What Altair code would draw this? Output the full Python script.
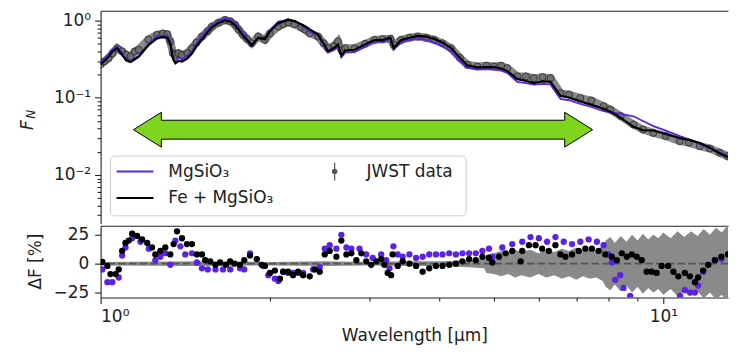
import altair as alt
import pandas as pd

# ---------------- data ----------------
wavelength = [1.000, 1.015, 1.033, 1.050, 1.070, 1.092, 1.110, 1.130, 1.150, 1.168,
              1.216, 1.260, 1.290, 1.313, 1.330, 1.345, 1.358, 1.375, 1.395, 1.425,
              1.453, 1.480, 1.514, 1.550, 1.577, 1.620, 1.664, 1.700, 1.734, 1.760,
              1.791, 1.820, 1.856, 1.906, 1.959, 2.000, 2.069, 2.110, 2.154, 2.210,
              2.275, 2.310, 2.353, 2.434, 2.490, 2.536, 2.600, 2.641, 2.678, 2.720,
              2.827, 2.950, 3.067, 3.170, 3.273, 3.318, 3.420, 3.540, 3.660, 3.790,
              3.916, 4.050, 4.194, 4.350, 4.486, 4.673, 4.850, 5.002, 5.150, 5.281,
              5.501, 5.700, 5.888, 6.100, 6.302, 6.565, 6.800, 7.122, 7.450, 7.832,
              8.049, 8.400, 8.850, 9.200, 9.600, 10.10, 10.70, 11.10, 11.61, 12.10,
              12.60, 13.00, 13.46]
jwst_flux = [0.271, 0.296, 0.326, 0.378, 0.439, 0.400, 0.361, 0.343, 0.398, 0.420,
             0.569, 0.654, 0.680, 0.666, 0.536, 0.378, 0.361, 0.378, 0.360, 0.378,
             0.439, 0.520, 0.622, 0.730, 0.837, 0.940, 1.020, 0.980, 0.880, 0.760,
             0.654, 0.580, 0.509, 0.622, 0.564, 0.680, 0.837, 0.900, 0.951, 0.900,
             0.812, 0.760, 0.686, 0.622, 0.510, 0.439, 0.470, 0.536, 0.419, 0.440,
             0.439, 0.500, 0.564, 0.575, 0.581, 0.486, 0.564, 0.603, 0.622, 0.600,
             0.564, 0.509, 0.439, 0.330, 0.268, 0.255, 0.260, 0.255, 0.260, 0.242,
             0.190, 0.189, 0.180, 0.185, 0.180, 0.115, 0.110, 0.0994, 0.092, 0.0777,
             0.0704, 0.058, 0.0451, 0.0388, 0.0351, 0.0319, 0.0275, 0.0262, 0.0237, 0.0220,
             0.0194, 0.0176, 0.0152]
flux_fe_mgsio3 = [0.270, 0.300, 0.340, 0.400, 0.440, 0.360, 0.306, 0.290, 0.316, 0.340,
                  0.480, 0.590, 0.610, 0.600, 0.500, 0.320, 0.280, 0.300, 0.295, 0.323,
                  0.375, 0.470, 0.576, 0.710, 0.820, 0.930, 1.010, 0.970, 0.870, 0.760,
                  0.640, 0.560, 0.480, 0.600, 0.575, 0.730, 0.930, 0.970, 1.020, 0.990,
                  0.890, 0.840, 0.770, 0.660, 0.510, 0.400, 0.445, 0.490, 0.350, 0.410,
                  0.420, 0.490, 0.560, 0.560, 0.600, 0.440, 0.560, 0.600, 0.635, 0.620,
                  0.580, 0.520, 0.443, 0.330, 0.263, 0.248, 0.250, 0.250, 0.240, 0.222,
                  0.176, 0.165, 0.155, 0.163, 0.161, 0.106, 0.101, 0.090, 0.081, 0.072,
                  0.066, 0.055, 0.042, 0.038, 0.0377, 0.034, 0.030, 0.0285, 0.026, 0.0225,
                  0.019, 0.0172, 0.0150]
flux_mgsio3 = [0.285, 0.320, 0.370, 0.430, 0.460, 0.374, 0.317, 0.300, 0.326, 0.350,
               0.500, 0.630, 0.630, 0.645, 0.540, 0.315, 0.300, 0.330, 0.313, 0.350,
               0.400, 0.500, 0.650, 0.770, 0.880, 0.990, 1.070, 1.030, 0.930, 0.800,
               0.690, 0.600, 0.470, 0.600, 0.590, 0.750, 0.970, 0.990, 1.030, 0.980,
               0.880, 0.810, 0.720, 0.640, 0.480, 0.385, 0.415, 0.475, 0.335, 0.385,
               0.390, 0.460, 0.540, 0.530, 0.590, 0.420, 0.530, 0.560, 0.590, 0.560,
               0.520, 0.470, 0.400, 0.300, 0.246, 0.234, 0.235, 0.232, 0.225, 0.210,
               0.161, 0.155, 0.148, 0.152, 0.149, 0.097, 0.093, 0.0835, 0.076, 0.067,
               0.065, 0.062, 0.0577, 0.050, 0.0429, 0.0375, 0.0319, 0.029, 0.0251, 0.0222,
               0.0196, 0.0176, 0.0152]

res_fe_wl = [1.007, 1.028, 1.041, 1.063, 1.077, 1.092, 1.107, 1.122, 1.138, 1.161,
             1.185, 1.210, 1.234, 1.251, 1.277, 1.303, 1.330, 1.348, 1.367, 1.395,
             1.424, 1.453, 1.483, 1.514, 1.534, 1.566, 1.600, 1.631, 1.670, 1.699,
             1.730, 1.769, 1.800, 1.843, 1.894, 1.933, 1.959, 2.000, 2.040, 2.083,
             2.111, 2.154, 2.198, 2.244, 2.290, 2.353, 2.402, 2.451, 2.502, 2.553,
             2.624, 2.678, 2.734, 2.790, 2.848, 2.906, 2.965, 3.026, 3.088, 3.152,
             3.194, 3.237, 3.282, 3.303, 3.373, 3.442, 3.538, 3.636, 3.735, 3.837,
             3.943, 4.051, 4.164, 4.279, 4.395, 4.517, 4.642, 4.769, 4.900, 4.967,
             5.105, 5.246, 5.389, 5.577, 5.614, 5.769, 5.929, 6.091, 6.259, 6.431,
             6.564, 6.699, 6.883, 7.073, 7.268, 7.466, 7.674, 7.885, 8.100, 8.267,
             8.437, 8.610, 8.788, 8.968, 9.153, 9.342, 9.535, 9.730, 9.931, 10.20,
             10.42, 10.63, 10.92, 11.15, 11.38, 11.53, 11.77, 12.02, 12.35, 12.68,
             13.03, 13.40]
res_fe = [1.5, -2, -9, -9, -5, 11, 18, 20, 26, 24,
          21, 18, 14, 8, 11, 14, 8, 17, 28, 22,
          17, 17, 8, 8, 3, 2, -1, 1, -1, 2,
          0, -1, 3, 7, 4, -1, -2, -8, -6, -13,
          -7, -7, -10, -7, -10, -11, -5, -7, 8, 11,
          6, 20, 8, 9, 3, 9, 2, -1, 2, 4,
          -1, -8, -10, 8, -2, 2, 0, -2, -7, -4,
          -2, -2, -1, 0, 2, 4, 3, 6, 5, 1,
          6, 9, 11, 2, 11, 16, 16, 13, 11, 16,
          8, 6, 8, 11, 13, 13, 11, 8, 6, 3,
          9, 6, 8, 6, 3, -7, -7, -8, -2, -2,
          -7, -11, -8, -11, -16, -12, -6, -1, 3, 6,
          8, 11]
res_mg_wl = [1.007, 1.028, 1.049, 1.077, 1.092, 1.107, 1.138, 1.177, 1.218, 1.251,
             1.277, 1.303, 1.330, 1.358, 1.386, 1.414, 1.453, 1.483, 1.514, 1.550,
             1.600, 1.650, 1.700, 1.769, 1.800, 1.843, 1.894, 1.945, 1.986, 2.040,
             2.069, 2.111, 2.154, 2.198, 2.244, 2.290, 2.385, 2.451, 2.502, 2.553,
             2.624, 2.678, 2.734, 2.790, 2.885, 2.965, 3.045, 3.152, 3.217, 3.261,
             3.314, 3.373, 3.442, 3.538, 3.636, 3.735, 3.837, 3.943, 4.051, 4.164,
             4.279, 4.395, 4.517, 4.642, 4.769, 4.900, 4.967, 5.174, 5.389, 5.614,
             5.808, 6.009, 6.215, 6.431, 6.653, 6.883, 7.122, 7.366, 7.620, 7.832,
             7.992, 8.100, 8.213, 8.383, 8.498, 8.731, 10.71, 10.92, 11.15, 11.38,
             11.53, 11.77, 12.02, 12.35, 12.68, 13.03, 13.40]
res_mg = [-5, -16, -16, -12, 7, 14, 22, 19, 13, 3,
          6, 9, -1, 20, 15, 8, 9, 1, -4, -5,
          -5, -5, -5, -4, -5, 9, 4, -2, -10, -13,
          -15, -7, -8, -8, -8, -8, -5, -3, 13, 16,
          13, 25, 14, 13, 13, 8, 5, 8, 3, -4,
          15, 8, 6, 8, 5, 6, 8, 8, 8, 9,
          8, 9, 9, 9, 11, 13, 6, 14, 17, 19,
          23, 22, 19, 23, 19, 17, 19, 21, 19, 16,
          8, 1, -14, -10, -21, -28, -28, -23, -25, -25,
          -19, -7, -1, 3, 4, 8, 9]

err_wl = [1.0, 1.5, 2.0, 2.5, 3.0, 3.5, 4.0, 4.5, 4.8, 4.85, 5.0, 5.15, 5.3, 5.45, 5.6,
          5.8, 6.0, 6.2, 6.4, 6.6, 6.8, 7.0, 7.2, 7.4, 7.6, 7.8, 7.9, 8.05, 8.2, 8.4,
          8.6, 8.8, 9.0, 9.2, 9.4, 9.6, 9.8, 10.0, 10.3, 10.6, 10.9, 11.2, 11.5, 11.8,
          12.1, 12.4, 12.7, 13.0, 13.3, 13.46]
err_pct = [1.5, 2, 1.5, 2, 1.5, 2, 2, 3, 4, 8, 9, 11, 9, 12, 10,
           12, 9, 12, 10, 13, 11, 14, 11, 13, 12, 15, 20, 23, 18, 24,
           19, 25, 20, 26, 21, 25, 22, 27, 22, 28, 23, 28, 24, 30,
           25, 31, 27, 33, 29, 33]

legend_labels = ["MgSiO₃", "Fe + MgSiO₃", "JWST data"]
x_major = [1, 10]
x_major_labels = ["10⁰", "10¹"]
x_minor = [2, 3, 4, 5, 6, 7, 8, 9]
f_major = [0.01, 0.1, 1]
f_major_labels = ["10⁻²", "10⁻¹", "10⁰"]
f_minor = [0.003, 0.004, 0.005, 0.006, 0.007, 0.008, 0.009,
           0.02, 0.03, 0.04, 0.05, 0.06, 0.07, 0.08, 0.09,
           0.2, 0.3, 0.4, 0.5, 0.6, 0.7, 0.8, 0.9]
d_major = [-25, 0, 25]

# ---------------- styling ----------------
PURPLE = "#5b22e6"
INK = "#222222"
FONT = "DejaVu Sans"
W = 630
H_TOP = 214
H_BOT = 72


def label_expr(vals, labels):
    expr = "''"
    for v, lab in zip(vals, labels):
        expr = f"abs(datum.value - {v}) < {v * 1e-3} ? '{lab}' : ({expr})"
    return expr


xscale = alt.Scale(type="log", domain=[1.0, 13.03], nice=False)
fscale = alt.Scale(type="log", domain=[0.00233, 1.346], nice=False)
dscale = alt.Scale(domain=[-29.3, 32.8], nice=False, zero=False)

one = alt.InlineData(values=[{}])

top_df = pd.DataFrame({"wl": wavelength, "jwst": jwst_flux,
                       "fe": flux_fe_mgsio3, "mg": flux_mgsio3})
fe_df = pd.DataFrame({"wl": res_fe_wl, "res": res_fe})
mg_df = pd.DataFrame({"wl": res_mg_wl, "res": res_mg})
err_df = pd.DataFrame({"wl": err_wl, "err": err_pct})

# ---------------- top panel ----------------
x_top_frame = alt.X("wl:Q", scale=xscale,
                    axis=alt.Axis(orient="top", labels=False, ticks=False, title=None,
                                  domain=True, grid=False))
x_none = alt.X("wl:Q", scale=xscale, axis=None)

band = alt.Chart(top_df).mark_line(color="#3a3a3a", strokeWidth=8, opacity=0.6,
                                   clip=True).encode(
    x=x_top_frame,
    y=alt.Y("jwst:Q", scale=fscale,
            axis=alt.Axis(orient="left", values=f_major,
                          labelExpr=label_expr(f_major, f_major_labels),
                          tickSize=6, labelPadding=4, title=None, grid=False)))
data_pts = alt.Chart(top_df).mark_point(filled=True, fill="#6a6a6a", stroke="#1e1e1e",
                                        strokeWidth=1, size=50, opacity=0.75,
                                        clip=True).encode(
    x=x_none,
    y=alt.Y("jwst:Q", scale=fscale,
            axis=alt.Axis(orient="left", values=f_minor, labels=False, tickSize=3.5,
                          title=None, domain=False, grid=False)))
mg_line = alt.Chart(top_df).mark_line(color=PURPLE, strokeWidth=1.8, clip=True).encode(
    x=x_none, y=alt.Y("mg:Q", scale=fscale, axis=None))
fe_line = alt.Chart(top_df).mark_line(color="black", strokeWidth=2.2, clip=True).encode(
    x=x_none, y=alt.Y("fe:Q", scale=fscale, axis=None))

ARROW = ("M-1,0 L-0.8785,-0.0759 L-0.8785,-0.0412 L0.8785,-0.0412 L0.8785,-0.0759 "
         "L1,0 L0.8785,0.0759 L0.8785,0.0412 L-0.8785,0.0412 L-0.8785,0.0759 Z")
arrow = alt.Chart(one).mark_point(shape=ARROW, size=461 ** 2, filled=True,
                                  fill="#7fd41e", stroke="black", strokeWidth=1,
                                  opacity=1).encode(
    x=alt.value(263.5), y=alt.value(119.5))

leg_box = alt.Chart(one).mark_rect(fill="white", fillOpacity=0.8, stroke="#cccccc",
                                   strokeWidth=1, cornerRadius=4).encode(
    x=alt.value(10), x2=alt.value(367), y=alt.value(146), y2=alt.value(206))
leg_mg = alt.Chart(one).mark_rule(color=PURPLE, strokeWidth=1.8).encode(
    x=alt.value(16), x2=alt.value(53), y=alt.value(161.5))
leg_fe = alt.Chart(one).mark_rule(color="black", strokeWidth=2).encode(
    x=alt.value(16), x2=alt.value(53), y=alt.value(188))
leg_err = alt.Chart(one).mark_rule(color="#555555", strokeWidth=1.2).encode(
    x=alt.value(235), y=alt.value(152.5), y2=alt.value(170.5))
leg_dot = alt.Chart(one).mark_point(filled=True, fill="#555555", size=30, opacity=1).encode(
    x=alt.value(235), y=alt.value(161.5))
txt = dict(font=FONT, fontSize=17, color=INK, align="left", baseline="middle")
leg_t1 = alt.Chart(one).mark_text(**txt).encode(
    x=alt.value(68), y=alt.value(161.5), text=alt.value(legend_labels[0]))
leg_t2 = alt.Chart(one).mark_text(**txt).encode(
    x=alt.value(68), y=alt.value(188.5), text=alt.value(legend_labels[1]))
leg_t3 = alt.Chart(one).mark_text(**txt).encode(
    x=alt.value(267), y=alt.value(161.5), text=alt.value(legend_labels[2]))

ytitle_f = alt.Chart(one).mark_text(font=FONT, fontSize=17, fontStyle="italic", color=INK,
                                    angle=270, align="center", baseline="middle").encode(
    x=alt.value(-73), y=alt.value(115), text=alt.value("F"))
ytitle_n = alt.Chart(one).mark_text(font=FONT, fontSize=12, fontStyle="italic", color=INK,
                                    angle=270, align="center", baseline="middle").encode(
    x=alt.value(-70), y=alt.value(104), text=alt.value("N"))

top = alt.layer(band, data_pts, mg_line, fe_line, arrow, leg_box, leg_mg, leg_fe,
                leg_err, leg_dot, leg_t1, leg_t2, leg_t3, ytitle_f, ytitle_n).resolve_axis(
    x="independent", y="independent").properties(width=W, height=H_TOP)

# ---------------- bottom panel ----------------
err_band = alt.Chart(err_df).transform_calculate(lo="-datum.err").mark_area(
    color="#8a8a8a", opacity=1, clip=True).encode(
    x=alt.X("wl:Q", scale=xscale,
            axis=alt.Axis(orient="bottom", values=x_major,
                          labelExpr=label_expr(x_major, x_major_labels),
                          tickSize=6, labelPadding=5, title="Wavelength [μm]",
                          titlePadding=3, grid=False)),
    y=alt.Y("lo:Q", scale=dscale,
            axis=alt.Axis(orient="left", values=d_major, tickSize=6, labelPadding=6,
                          title=None, grid=False)),
    y2="err:Q")
zero_line = alt.Chart(one).mark_rule(color="#555555", strokeDash=[7.5, 3.3],
                                     strokeWidth=1.8).encode(
    y=alt.YDatum(0, type="quantitative", scale=dscale, axis=None))
mg_dots = alt.Chart(mg_df).mark_circle(size=40, color=PURPLE, opacity=1, clip=True).encode(
    x=alt.X("wl:Q", scale=xscale,
            axis=alt.Axis(orient="bottom", values=x_minor, labels=False, tickSize=3.5,
                          title=None, domain=False, grid=False)),
    y=alt.Y("res:Q", scale=dscale, axis=None))
fe_dots = alt.Chart(fe_df).mark_circle(size=40, color="black", opacity=1, clip=True).encode(
    x=alt.X("wl:Q", scale=xscale,
            axis=alt.Axis(orient="top", labels=False, ticks=False, title=None,
                          domain=True, grid=False)),
    y=alt.Y("res:Q", scale=dscale, axis=None))
ytitle_d = alt.Chart(one).mark_text(font=FONT, fontSize=17, color=INK, angle=270,
                                    align="center", baseline="middle").encode(
    x=alt.value(-65), y=alt.value(36), text=alt.value("ΔF [%]"))

bottom = alt.layer(err_band, zero_line, mg_dots, fe_dots, ytitle_d).resolve_axis(
    x="independent", y="independent").properties(width=W, height=H_BOT)

chart = alt.vconcat(top, bottom, spacing=0).properties(
    padding={"left": 10, "top": 1, "right": 0, "bottom": 0},
    background="white",
).configure_view(stroke="transparent").configure_axis(
    domainColor=INK, tickColor=INK, labelColor=INK, titleColor=INK,
    labelFont=FONT, titleFont=FONT, labelFontSize=17, titleFontSize=17,
    titleFontWeight="normal", domainWidth=1.1, tickWidth=1.1,
)

chart.save("out.html", embed_options={"renderer": "svg", "actions": False})
